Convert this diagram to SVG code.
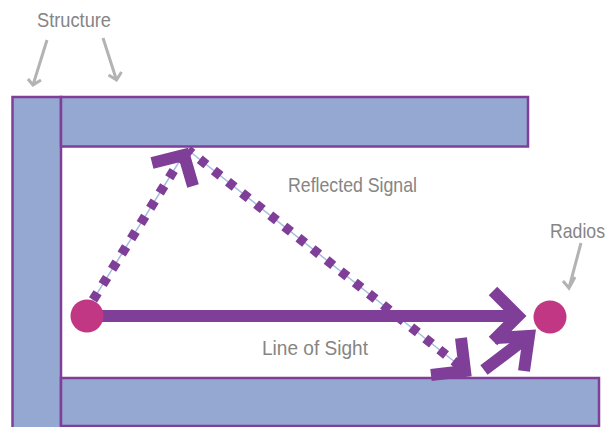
<svg xmlns="http://www.w3.org/2000/svg" width="616" height="427" viewBox="0 0 616 427">
<style>
.bar{fill:#94a8d2;stroke:#7f3f98;stroke-width:2.5}
.radio{fill:#c13783}
.lbl{font-family:"Liberation Sans",Arial,sans-serif;font-size:21px;fill:#858585}
.ptr{fill:none;stroke:#b3b3b3;stroke-width:3}
.thin{fill:none;stroke:#a7bde0;stroke-width:1.5}
.dots{fill:none;stroke:#7f3f98;stroke-width:9.5;stroke-dasharray:8.5 9.5}
.solid{fill:none;stroke:#7f3f98;stroke-width:12;stroke-linejoin:miter;stroke-miterlimit:4}
</style>
<rect width="616" height="427" fill="#ffffff"/>
<g id="structure-left"><rect class="bar" x="12.5" y="97" width="48.5" height="345"/></g>
<g id="structure-top"><rect class="bar" x="61" y="97" width="467" height="49.5"/></g>
<g id="structure-bottom"><rect class="bar" x="61" y="378" width="538" height="48"/></g>
<g id="connectors">
  <path class="thin" d="M83,316 L184,154"/>
  <path class="dots" d="M83,316 L184,154" stroke-dashoffset="-1"/>
  <path class="thin" d="M188,150 L465,370"/>
  <path class="dots" d="M188,150 L465,370" stroke-dashoffset="3"/>
  <path class="solid" d="M152,163 L184,155 L193,186"/>
  <path class="solid" d="M461,338 L465,371 L431,375"/>
  <path class="solid" d="M87,316 L518,316"/>
  <path class="solid" d="M493,291 L518,316 L493,341"/>
  <path class="solid" d="M484,370 L529,336"/>
  <path class="solid" d="M495,338 L529,336 L524,371"/>
  <path class="ptr" d="M47,40 L33,85 M28,79 L33,85 L41,80"/>
  <path class="ptr" d="M103,38 L116.5,80 M108.5,75 L116.5,80 L121.5,72"/>
  <path class="ptr" d="M581,243 L569,288 M563,281 L569,288 L575,277"/>
</g>
<g id="radio-left"><circle class="radio" cx="87" cy="316" r="16.5"/></g>
<g id="radio-right"><circle class="radio" cx="550" cy="317" r="16.5"/></g>
<g id="labels">
  <text class="lbl" x="37" y="27" textLength="74" lengthAdjust="spacingAndGlyphs">Structure</text>
  <text class="lbl" x="288" y="192" textLength="129" lengthAdjust="spacingAndGlyphs">Reflected Signal</text>
  <text class="lbl" x="262" y="355" textLength="106" lengthAdjust="spacingAndGlyphs">Line of Sight</text>
  <text class="lbl" x="550" y="238" textLength="55" lengthAdjust="spacingAndGlyphs">Radios</text>
</g>
</svg>
